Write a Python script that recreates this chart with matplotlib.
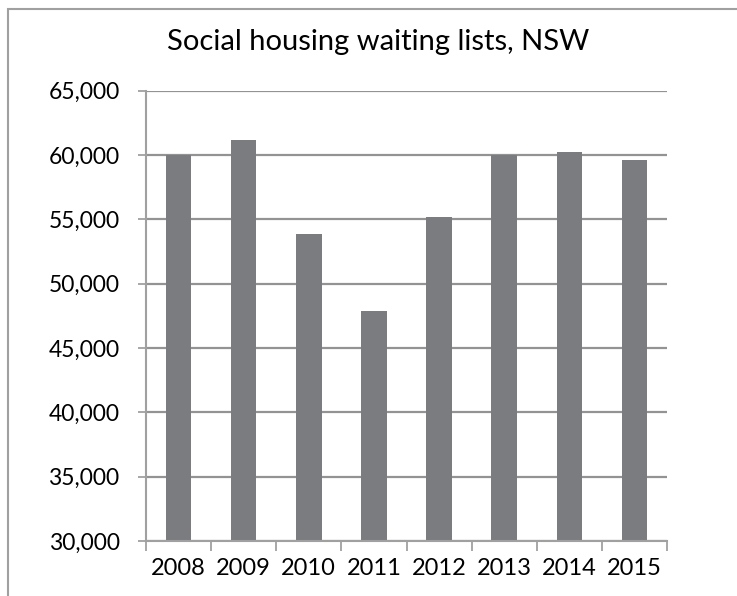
import numpy as np
import matplotlib.pyplot as plt
from matplotlib.patches import Rectangle
from matplotlib.ticker import FuncFormatter, FixedLocator

# data
years = ['2008', '2009', '2010', '2011', '2012', '2013', '2014', '2015']
waiting = [60000, 61200, 53900, 47900, 55150, 60000, 60200, 59600]

y_ticks = [30000, 35000, 40000, 45000, 50000, 55000, 60000, 65000]

plt.rcParams['font.family'] = ['Lato', 'DejaVu Sans']

W, H = 737, 596
fig = plt.figure(figsize=(W / 100, H / 100), dpi=100)

x0, x1 = 146, 667
ytop, ybot = 90.7, 541
ax = fig.add_axes([x0 / W, 1 - ybot / H, (x1 - x0) / W, (ybot - ytop) / H])

x = np.arange(len(years))
ax.bar(x, waiting, width=0.39, color='#7b7c80', zorder=3)

ax.set_xlim(-0.5, len(years) - 0.5)
ax.set_ylim(30000, 65000)
ax.yaxis.set_major_locator(FixedLocator(y_ticks))
ax.yaxis.set_major_formatter(FuncFormatter(lambda v, p: f'{int(v):,}'))
ax.grid(axis='y', color='#939393', lw=1.6, zorder=0)

# ticks between categories, labels centred under bars
ax.set_xticks(np.arange(-0.5, len(years), 1.0))
ax.set_xticklabels([])
ax.set_xticks(x, minor=True)
ax.set_xticklabels(years, minor=True)
ax.tick_params(axis='x', which='major', length=7, width=1.3, color='#a0a0a0', direction='out')
ax.tick_params(axis='x', which='minor', length=0, pad=12, labelsize=17)
ax.tick_params(axis='y', length=6, width=1.3, color='#a0a0a0', pad=13, labelsize=16.5)

for s in ['top', 'right']:
    ax.spines[s].set_visible(False)
for s in ['left', 'bottom']:
    ax.spines[s].set_color('#a0a0a0')
    ax.spines[s].set_linewidth(1.5)
ax.spines['bottom'].set_zorder(4)

fig.text(378 / W, 1 - 42 / H, 'Social housing waiting lists, NSW',
         ha='center', va='center', fontsize=21)

# outer chart border (cut off on right and bottom in the reference)
fig.add_artist(Rectangle((8 / W, -0.1), 1.0, 1 - 9 / H + 0.1,
                         transform=fig.transFigure, fill=False,
                         edgecolor='#a0a0a0', lw=1.5))

fig.savefig('out.png', dpi=100)
